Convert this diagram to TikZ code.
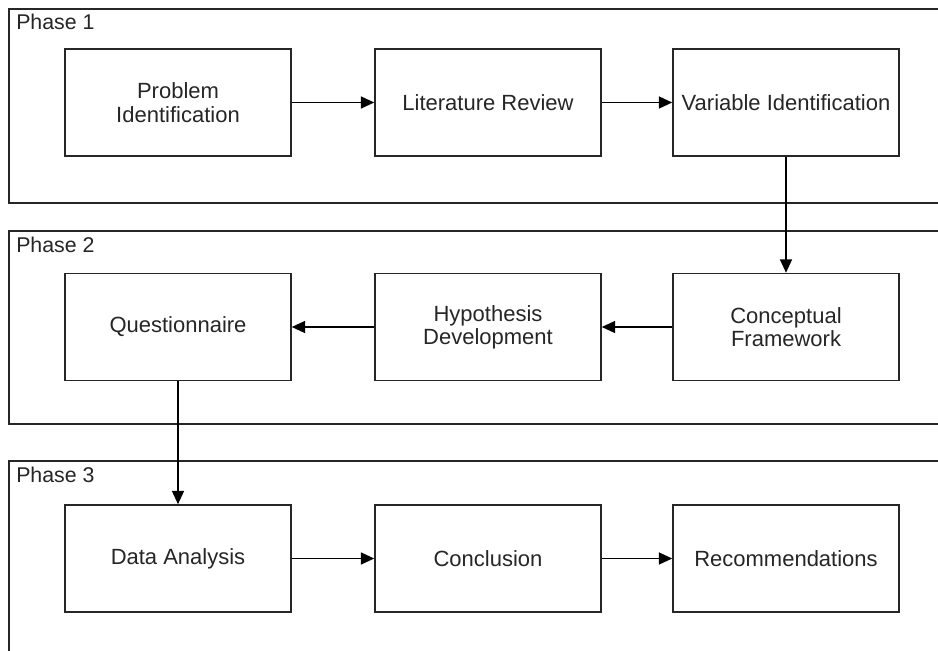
\documentclass[tikz,border=0pt]{standalone}
\usepackage{fontspec}
\setmainfont{Liberation Sans}
\usetikzlibrary{arrows.meta}
\begin{document}
\begin{tikzpicture}[x=0.75pt,y=-0.75pt,
  frame/.style={draw=black!85,line width=1.2pt},
  stepbox/.style={draw=black!85,line width=1.2pt,minimum width=226*0.75pt,minimum height=107*0.75pt,inner sep=0pt,align=center,font=\fontsize{16.5pt}{17.5pt}\selectfont,text=black!85},
  phaselabel/.style={anchor=base west,inner sep=0pt,font=\fontsize{16pt}{18pt}\selectfont,text=black!85},
  conn/.style={draw=black,line width=1.2pt,-{Triangle[length=10pt,width=9pt]}}]
\useasboundingbox (0,0) rectangle (938,650);
\clip (0,0) rectangle (938,650);
\fill[white] (0,0) rectangle (938,650);
% phase frames
\draw[frame] (950,9) -- (9,9) -- (9,203) -- (950,203);
\draw[frame] (950,231) -- (9,231) -- (9,424) -- (950,424);
\draw[frame] (950,461) -- (9,461) -- (9,660);
\node[phaselabel] (p1) at (16,29) {Phase 1};
\node[phaselabel] (p2) at (16,252) {Phase 2};
\node[phaselabel] (p3) at (16,482) {Phase 3};
% row 1
\node[stepbox] (pi) at (178,102.5) {Problem\\Identification};
\node[stepbox] (lr) at (488,102.5) {Literature Review};
\node[stepbox] (vi) at (786,102.5) {Variable Identification};
% row 2
\node[stepbox] (q) at (178,327) {Questionnaire};
\node[stepbox] (hd) at (488,327) {Hypothesis\\Development};
\node[stepbox] (cf) at (786,327) {Conceptual\\Framework};
% row 3
\node[stepbox] (da) at (178,558.5) {Data Analysis};
\node[stepbox] (co) at (488,558.5) {Conclusion};
\node[stepbox] (re) at (786,558.5) {Recommendations};
% connectors
\draw[conn] (pi) -- (lr);
\draw[conn] (lr) -- (vi);
\draw[conn] (vi) -- (cf);
\draw[conn] (cf) -- (hd);
\draw[conn] (hd) -- (q);
\draw[conn] (q) -- (da);
\draw[conn] (da) -- (co);
\draw[conn] (co) -- (re);
\end{tikzpicture}
\end{document}
